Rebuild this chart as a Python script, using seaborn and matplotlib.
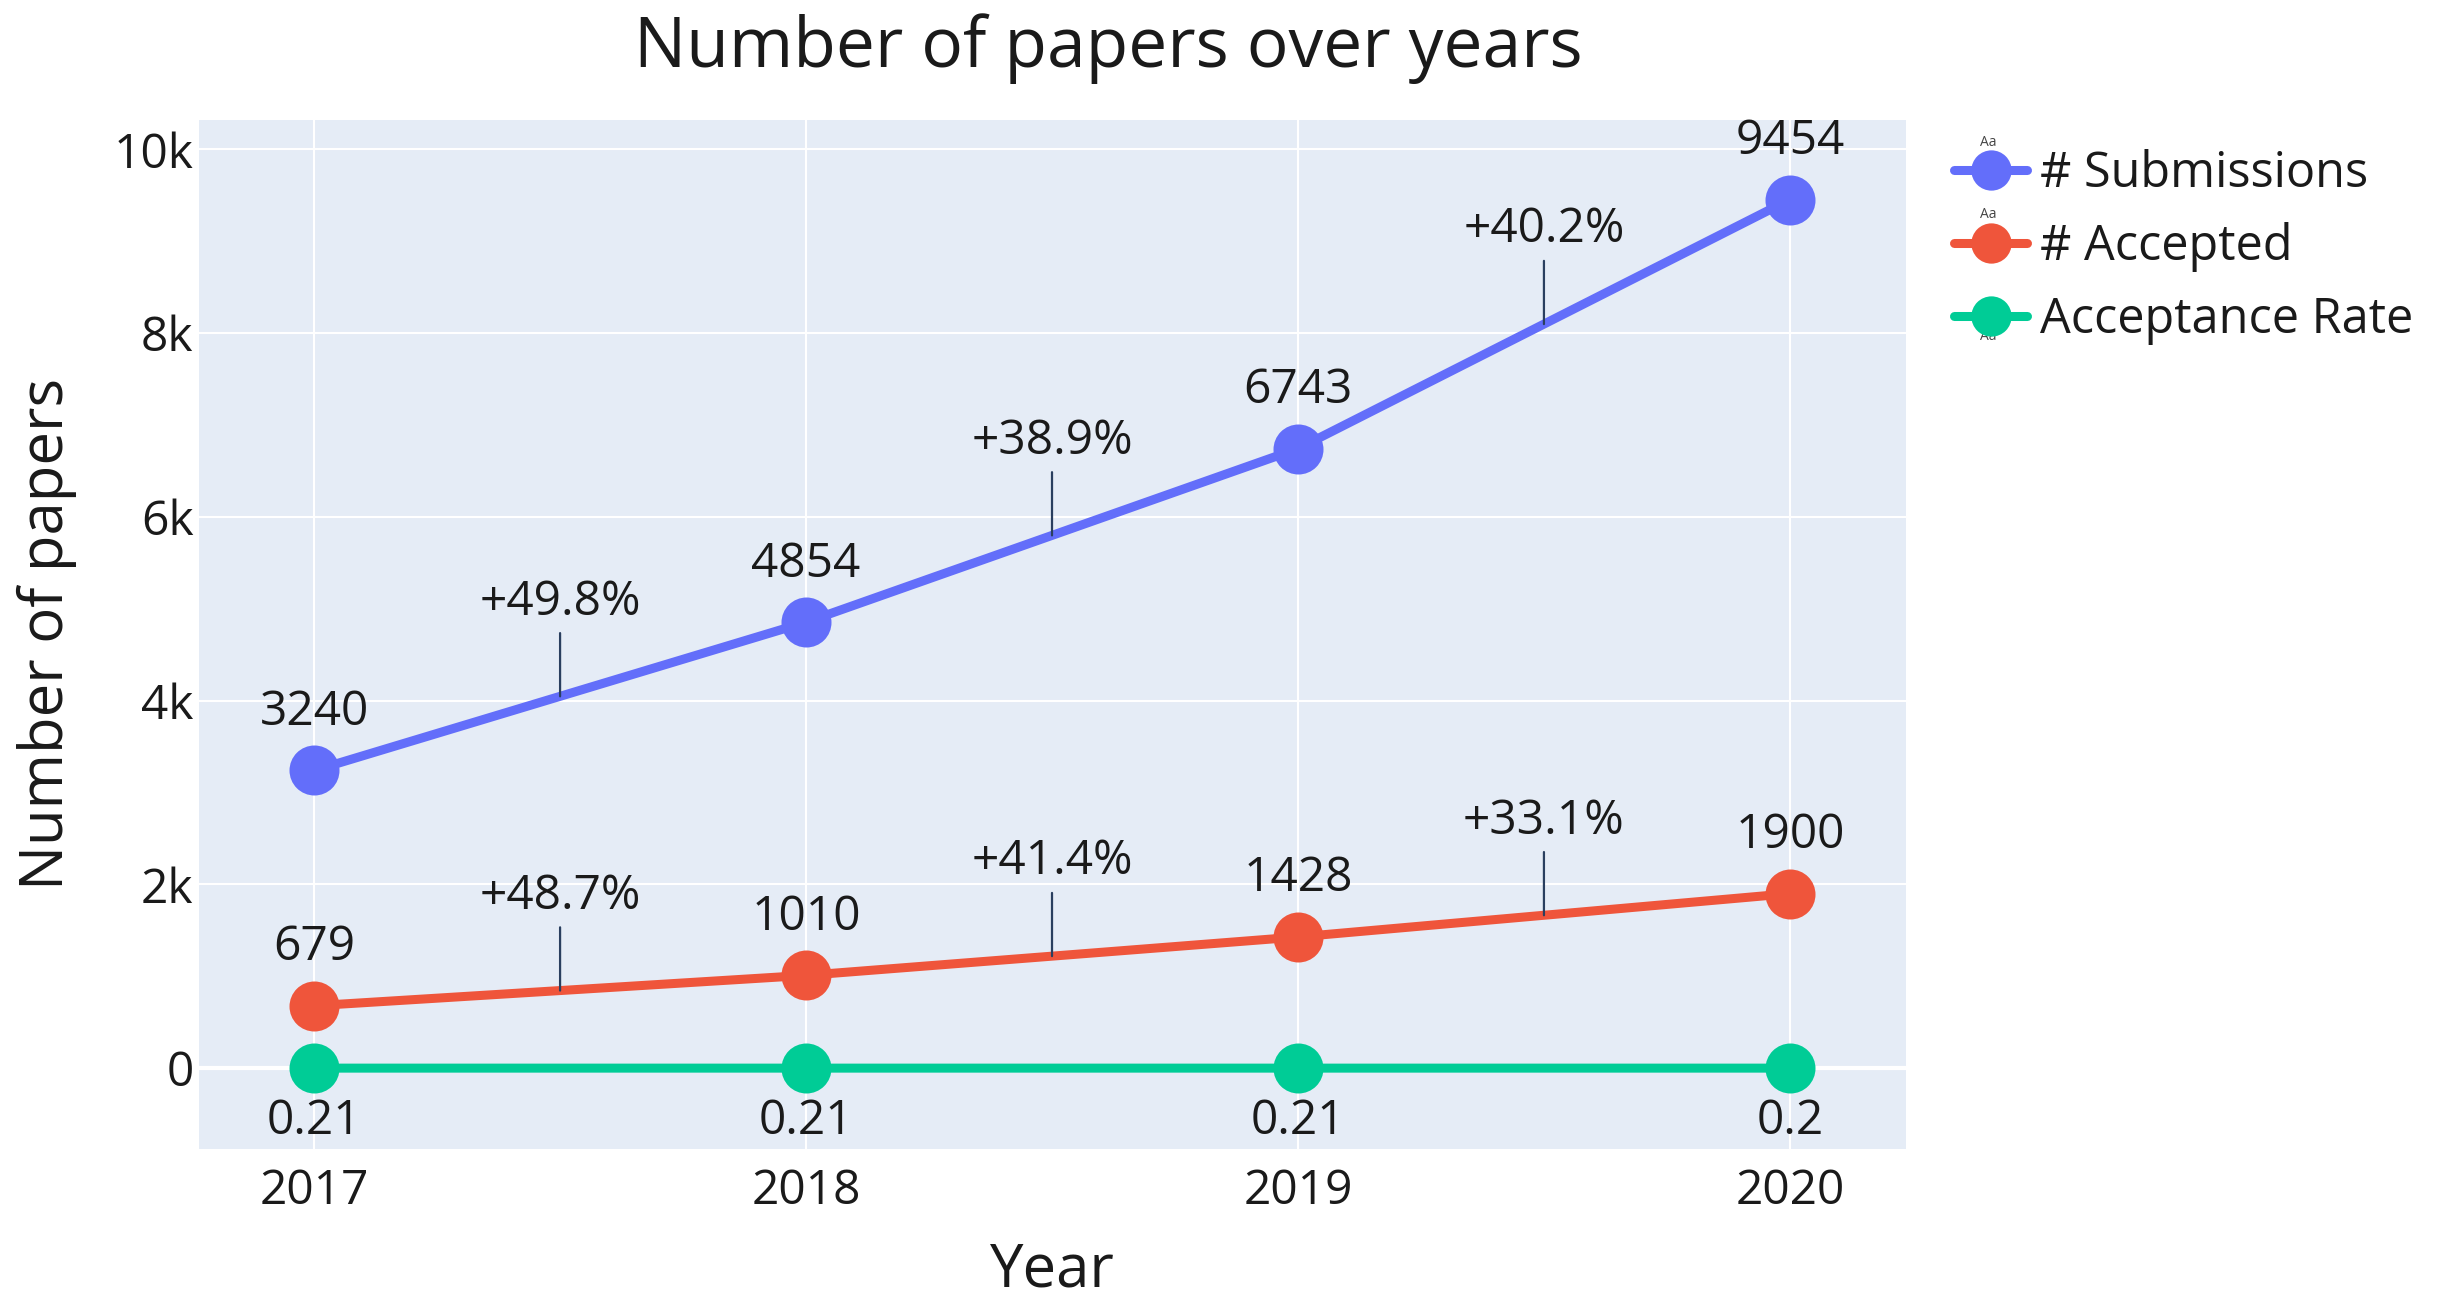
import matplotlib
matplotlib.use("Agg")
import matplotlib.pyplot as plt
from matplotlib.lines import Line2D
import seaborn as sns
import pandas as pd

years = [2017, 2018, 2019, 2020]
submissions = [3240, 4854, 6743, 9454]
accepted = [679, 1010, 1428, 1900]
acceptance_rate = [0.21, 0.21, 0.21, 0.2]
sub_growth = ["+49.8%", "+38.9%", "+40.2%"]
acc_growth = ["+48.7%", "+41.4%", "+33.1%"]
series_names = ["# Submissions", "# Accepted", "Acceptance Rate"]
y_ticks = [0, 2000, 4000, 6000, 8000, 10000]
y_ticklabels = ["0", "2k", "4k", "6k", "8k", "10k"]

colors = ["#636EFA", "#EF553B", "#00CC96"]
TXT = "#1a1a1a"
FONT = ["Open Sans", "DejaVu Sans"]

sns.set_theme(style="white")
plt.rcParams["font.family"] = FONT

fig = plt.figure(figsize=(24.41, 12.99), dpi=100)
ax = fig.add_axes([199 / 2441, 1 - 1149 / 1299, (1906 - 199) / 2441, (1149 - 120) / 1299])
ax.set_facecolor("#E5ECF6")

df = pd.DataFrame({
    "Year": years * 3,
    "Value": submissions + accepted + acceptance_rate,
    "Series": [series_names[0]] * 4 + [series_names[1]] * 4 + [series_names[2]] * 4,
})

for name, col in zip(series_names, colors):
    sub = df[df["Series"] == name]
    sns.lineplot(data=sub, x="Year", y="Value", color=col, marker="o", markersize=36,
                 markeredgewidth=0, linewidth=6.5, ax=ax, legend=False, zorder=3)

ax.set_xlim(2016.766, 2020.236)
ax.set_ylim(-880, 10320)
ax.set_xticks(years)
ax.set_xticklabels([str(y) for y in years])
ax.set_yticks(y_ticks)
ax.set_yticklabels(y_ticklabels)
ax.grid(True, color="white", linewidth=1.5, zorder=0)
ax.set_axisbelow(True)
ax.axhline(0, color="white", linewidth=3, zorder=1)
for s in ax.spines.values():
    s.set_visible(False)
ax.tick_params(axis="both", length=0, labelsize=34.5, colors=TXT)
ax.tick_params(axis="x", pad=13)
ax.tick_params(axis="y", pad=4)
ax.set_xlabel("Year", fontsize=43, color=TXT, labelpad=19)
ax.set_ylabel("Number of papers", fontsize=43, color=TXT, labelpad=26)

# value labels
for x, v in zip(years, submissions):
    ax.annotate(str(v), (x, v), xytext=(0, 42), textcoords="offset points",
                ha="center", va="center", fontsize=34.5, color=TXT, zorder=5)
for x, v in zip(years, accepted):
    ax.annotate(str(v), (x, v), xytext=(0, 42), textcoords="offset points",
                ha="center", va="center", fontsize=34.5, color=TXT, zorder=5)
for x, v in zip(years, acceptance_rate):
    ax.annotate(f"{v:g}", (x, v), xytext=(0, -38), textcoords="offset points",
                ha="center", va="center", fontsize=34.5, color=TXT, zorder=5)

# growth annotations at midpoints
for vals, labels in ((submissions, sub_growth), (accepted, acc_growth)):
    for i, lab in enumerate(labels):
        xm = (years[i] + years[i + 1]) / 2
        ym = (vals[i] + vals[i + 1]) / 2
        ax.annotate(lab, (xm, ym), xytext=(0, 68), textcoords="offset points",
                    ha="center", va="center", fontsize=34.5, color=TXT, zorder=6,
                    arrowprops=dict(arrowstyle="-", color="#2a3f5f", lw=1.6,
                                    shrinkA=3, shrinkB=0))

fig.suptitle("Number of papers over years", x=1108 / 2441, y=1 - 49 / 1299,
             va="center", ha="center", fontsize=50, color=TXT)

handles = [Line2D([0], [0], color=c, linewidth=6.5, marker="o", markersize=29,
                  markeredgewidth=0) for c in colors]
leg = fig.legend(handles, series_names, loc="upper left",
                 bbox_to_anchor=(1935 / 2441, 1 - 130 / 1299), frameon=False,
                 fontsize=35, handlelength=1.5, handletextpad=0.25,
                 labelspacing=0.48, borderaxespad=0, borderpad=0.4)
for t in leg.get_texts():
    t.set_color(TXT)

# tiny legend text-position markers
fig.text(1988 / 2441, 1 - 142 / 1299, "Aa", fontsize=10, color="#444", ha="center", va="center")
fig.text(1988 / 2441, 1 - 214 / 1299, "Aa", fontsize=10, color="#444", ha="center", va="center")
fig.text(1988 / 2441, 1 - 336 / 1299, "Aa", fontsize=10, color="#444", ha="center", va="center")

fig.savefig("out.png", dpi=100, facecolor="white")
